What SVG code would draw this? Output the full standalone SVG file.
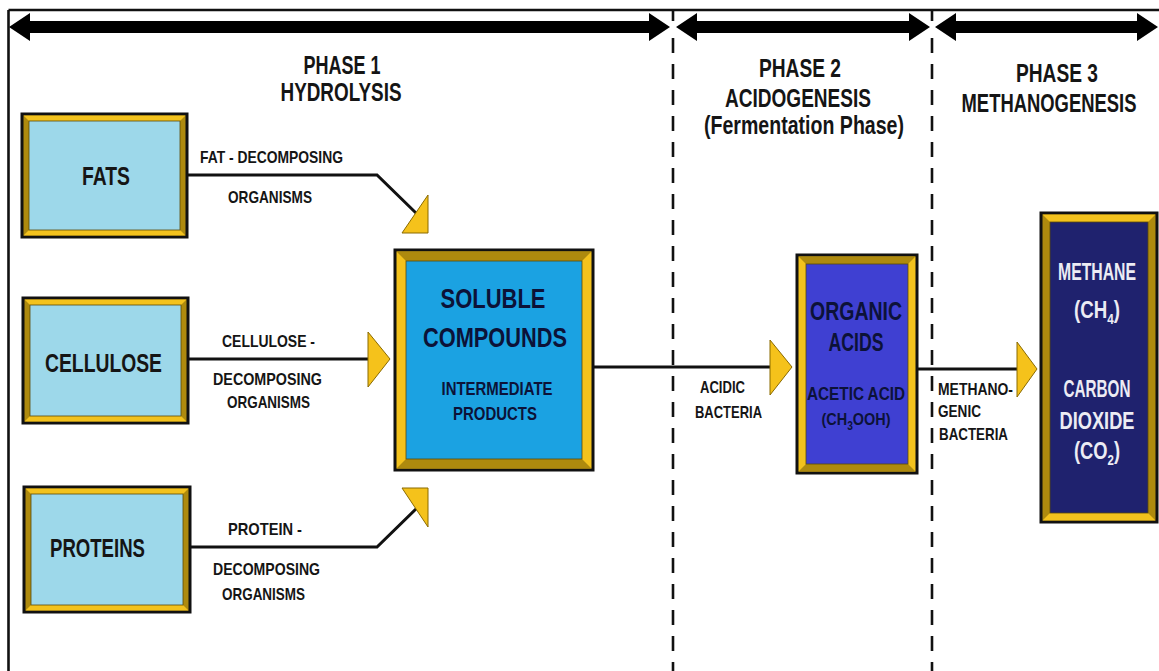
<svg xmlns="http://www.w3.org/2000/svg" width="1159" height="671" viewBox="0 0 1159 671">
<defs>
<style>
text{font-family:"Liberation Sans",Arial,sans-serif;font-weight:bold;fill:#151515}
.ph{font-size:25px;text-anchor:middle}
.nd{font-size:25px}
.lb{font-size:17px}
.mid{text-anchor:middle}
.wh{fill:#ECECF4}
.nv{fill:#0c1238}
.conn{fill:none;stroke:#111;stroke-width:3}
.head{fill:#F5C21B;stroke:#8a6a00;stroke-width:1}
.dash{stroke:#111;stroke-width:2.6;stroke-dasharray:15 11}
.edge{stroke:#111;stroke-width:2.6}
.bright{fill:#F3C21D}
.dark{fill:#AE8A0E}
.outer{stroke:#111;stroke-width:3}
.inner{stroke:#5b4a08;stroke-width:0.8}
</style>
</defs>
<rect width="1159" height="671" fill="#fff"/>
<g id="frame">
<line class="edge" x1="8.5" y1="10" x2="1159" y2="10"/>
<line class="edge" x1="8.5" y1="10" x2="8.5" y2="671"/>
<line class="edge" x1="673" y1="10" x2="673" y2="21"/>
<line class="dash" x1="673" y1="38" x2="673" y2="671"/>
<line class="edge" x1="932" y1="10" x2="932" y2="21"/>
<line class="dash" x1="932" y1="38" x2="932" y2="671"/>
<polygon fill="#000" points="9,27 30,13 30,21 649,21 649,13 670,27 649,41 649,33 30,33 30,41"/>
<polygon fill="#000" points="676,27 697,13 697,21 909,21 909,13 930,27 909,41 909,33 697,33 697,41"/>
<polygon fill="#000" points="935,27 956,13 956,21 1137,21 1137,13 1158,27 1137,41 1137,33 956,33 956,41"/>
</g>
<g id="phase-labels">
<text class="ph" x="342" y="74" textLength="77" lengthAdjust="spacingAndGlyphs">PHASE 1</text>
<text class="ph" x="341" y="101" textLength="121" lengthAdjust="spacingAndGlyphs">HYDROLYSIS</text>
<text class="ph" x="800" y="77" textLength="82" lengthAdjust="spacingAndGlyphs">PHASE 2</text>
<text class="ph" x="798" y="107" textLength="146" lengthAdjust="spacingAndGlyphs">ACIDOGENESIS</text>
<text class="ph" x="804" y="134" textLength="200" lengthAdjust="spacingAndGlyphs">(Fermentation Phase)</text>
<text class="ph" x="1057" y="82" textLength="82" lengthAdjust="spacingAndGlyphs">PHASE 3</text>
<text class="ph" x="1049" y="112" textLength="175" lengthAdjust="spacingAndGlyphs">METHANOGENESIS</text>
</g>
<g id="connectors">
<polyline class="conn" points="187,175 377,175 416,213"/>
<polygon class="head" points="428,195 428,233 402,233"/>
<line class="conn" x1="188" y1="359" x2="369" y2="359"/>
<polygon class="head" points="368,332 390,359 368,387"/>
<polyline class="conn" points="190,547 377,547 417,508"/>
<polygon class="head" points="402,488 428,488 428,527"/>
<line class="conn" x1="593" y1="367" x2="771" y2="367"/>
<polygon class="head" points="770,340 792,367 770,395"/>
<line class="conn" x1="917" y1="369" x2="1018" y2="369"/>
<polygon class="head" points="1017,342 1037,369 1017,397"/>
<text class="lb" x="200" y="163" textLength="143" lengthAdjust="spacingAndGlyphs">FAT - DECOMPOSING</text>
<text class="lb" x="228" y="203" textLength="84" lengthAdjust="spacingAndGlyphs">ORGANISMS</text>
<text class="lb" x="222" y="347" textLength="93" lengthAdjust="spacingAndGlyphs">CELLULOSE -</text>
<text class="lb" x="213" y="385" textLength="109" lengthAdjust="spacingAndGlyphs">DECOMPOSING</text>
<text class="lb" x="227" y="408" textLength="83" lengthAdjust="spacingAndGlyphs">ORGANISMS</text>
<text class="lb" x="228" y="535" textLength="74" lengthAdjust="spacingAndGlyphs">PROTEIN -</text>
<text class="lb" x="213" y="575" textLength="107" lengthAdjust="spacingAndGlyphs">DECOMPOSING</text>
<text class="lb" x="222" y="600" textLength="83" lengthAdjust="spacingAndGlyphs">ORGANISMS</text>
<text class="lb" x="700" y="393" textLength="45" lengthAdjust="spacingAndGlyphs">ACIDIC</text>
<text class="lb" x="695" y="418" textLength="67" lengthAdjust="spacingAndGlyphs">BACTERIA</text>
<text class="lb" x="938" y="395" textLength="75" lengthAdjust="spacingAndGlyphs">METHANO-</text>
<text class="lb" x="938" y="417" textLength="43" lengthAdjust="spacingAndGlyphs">GENIC</text>
<text class="lb" x="939" y="440" textLength="69" lengthAdjust="spacingAndGlyphs">BACTERIA</text>
</g>
<g id="fats">
<rect class="dark outer" x="22" y="114" width="165" height="123"/>
<polygon class="bright" points="23.5,115.5 185.5,115.5 180,121 29,121"/>
<polygon class="bright" points="23.5,235.5 185.5,235.5 180,230 29,230"/>
<rect class="inner" fill="#9DD8EA" x="29" y="121" width="151" height="109"/>
<text class="nd" x="82" y="185" textLength="48" lengthAdjust="spacingAndGlyphs">FATS</text>
</g>
<g id="cellulose">
<rect class="dark outer" x="23" y="298" width="165" height="125"/>
<polygon class="bright" points="24.5,299.5 186.5,299.5 181,305 30,305"/>
<polygon class="bright" points="24.5,421.5 186.5,421.5 181,416 30,416"/>
<rect class="inner" fill="#9DD8EA" x="30" y="305" width="151" height="111"/>
<text class="nd" x="45" y="372" textLength="117" lengthAdjust="spacingAndGlyphs">CELLULOSE</text>
</g>
<g id="proteins">
<rect class="dark outer" x="24" y="487" width="166" height="125"/>
<polygon class="bright" points="25.5,488.5 188.5,488.5 183,494 31,494"/>
<polygon class="bright" points="25.5,610.5 188.5,610.5 183,605 31,605"/>
<rect class="inner" fill="#9DD8EA" x="31" y="494" width="152" height="111"/>
<text class="nd" x="50" y="557" textLength="95" lengthAdjust="spacingAndGlyphs">PROTEINS</text>
</g>
<g id="soluble-compounds">
<rect class="bright outer" x="395" y="250" width="198" height="220"/>
<polygon class="dark" points="396.5,251.5 591.5,251.5 582,261 406,261"/>
<polygon class="dark" points="396.5,468.5 591.5,468.5 582,459 406,459"/>
<rect class="inner" fill="#1BA2E2" x="406" y="261" width="176" height="198"/>
<text class="mid nv" x="493" y="308" font-size="28" textLength="105" lengthAdjust="spacingAndGlyphs">SOLUBLE</text>
<text class="mid nv" x="495" y="347" font-size="28" textLength="144" lengthAdjust="spacingAndGlyphs">COMPOUNDS</text>
<text class="mid nv" x="497" y="395" font-size="18" textLength="111" lengthAdjust="spacingAndGlyphs">INTERMEDIATE</text>
<text class="mid nv" x="495" y="420" font-size="18" textLength="84" lengthAdjust="spacingAndGlyphs">PRODUCTS</text>
</g>
<g id="organic-acids">
<rect class="bright outer" x="797" y="255" width="120" height="218"/>
<polygon class="dark" points="798.5,256.5 915.5,256.5 908,264 806,264"/>
<polygon class="dark" points="798.5,471.5 915.5,471.5 908,464 806,464"/>
<rect class="inner" fill="#3F40D2" x="806" y="264" width="102" height="200"/>
<text class="mid nv" x="856" y="320" font-size="26" textLength="92" lengthAdjust="spacingAndGlyphs">ORGANIC</text>
<text class="mid nv" x="856" y="351" font-size="26" textLength="55" lengthAdjust="spacingAndGlyphs">ACIDS</text>
<text class="mid nv" x="856" y="400" font-size="19" textLength="98" lengthAdjust="spacingAndGlyphs">ACETIC ACID</text>
<text class="mid nv" x="856" y="425" font-size="17" textLength="69" lengthAdjust="spacingAndGlyphs">(CH<tspan dy="5" font-size="12">3</tspan><tspan dy="-5">OOH)</tspan></text>
</g>
<g id="methane-co2">
<rect class="dark outer" x="1041" y="213" width="116" height="309"/>
<polygon class="bright" points="1042.5,214.5 1155.5,214.5 1148,222 1050,222"/>
<polygon class="bright" points="1042.5,520.5 1155.5,520.5 1148,513 1050,513"/>
<rect class="inner" fill="#1F226E" x="1050" y="222" width="98" height="291"/>
<text class="mid wh" x="1097" y="280" font-size="24" textLength="78" lengthAdjust="spacingAndGlyphs">METHANE</text>
<text class="mid wh" x="1097" y="318" font-size="24" textLength="46" lengthAdjust="spacingAndGlyphs">(CH<tspan dy="6" font-size="15">4</tspan><tspan dy="-6">)</tspan></text>
<text class="mid wh" x="1097" y="397" font-size="24" textLength="67" lengthAdjust="spacingAndGlyphs">CARBON</text>
<text class="mid wh" x="1097" y="429" font-size="24" textLength="75" lengthAdjust="spacingAndGlyphs">DIOXIDE</text>
<text class="mid wh" x="1097" y="459" font-size="24" textLength="46" lengthAdjust="spacingAndGlyphs">(CO<tspan dy="6" font-size="15">2</tspan><tspan dy="-6">)</tspan></text>
</g>
</svg>
